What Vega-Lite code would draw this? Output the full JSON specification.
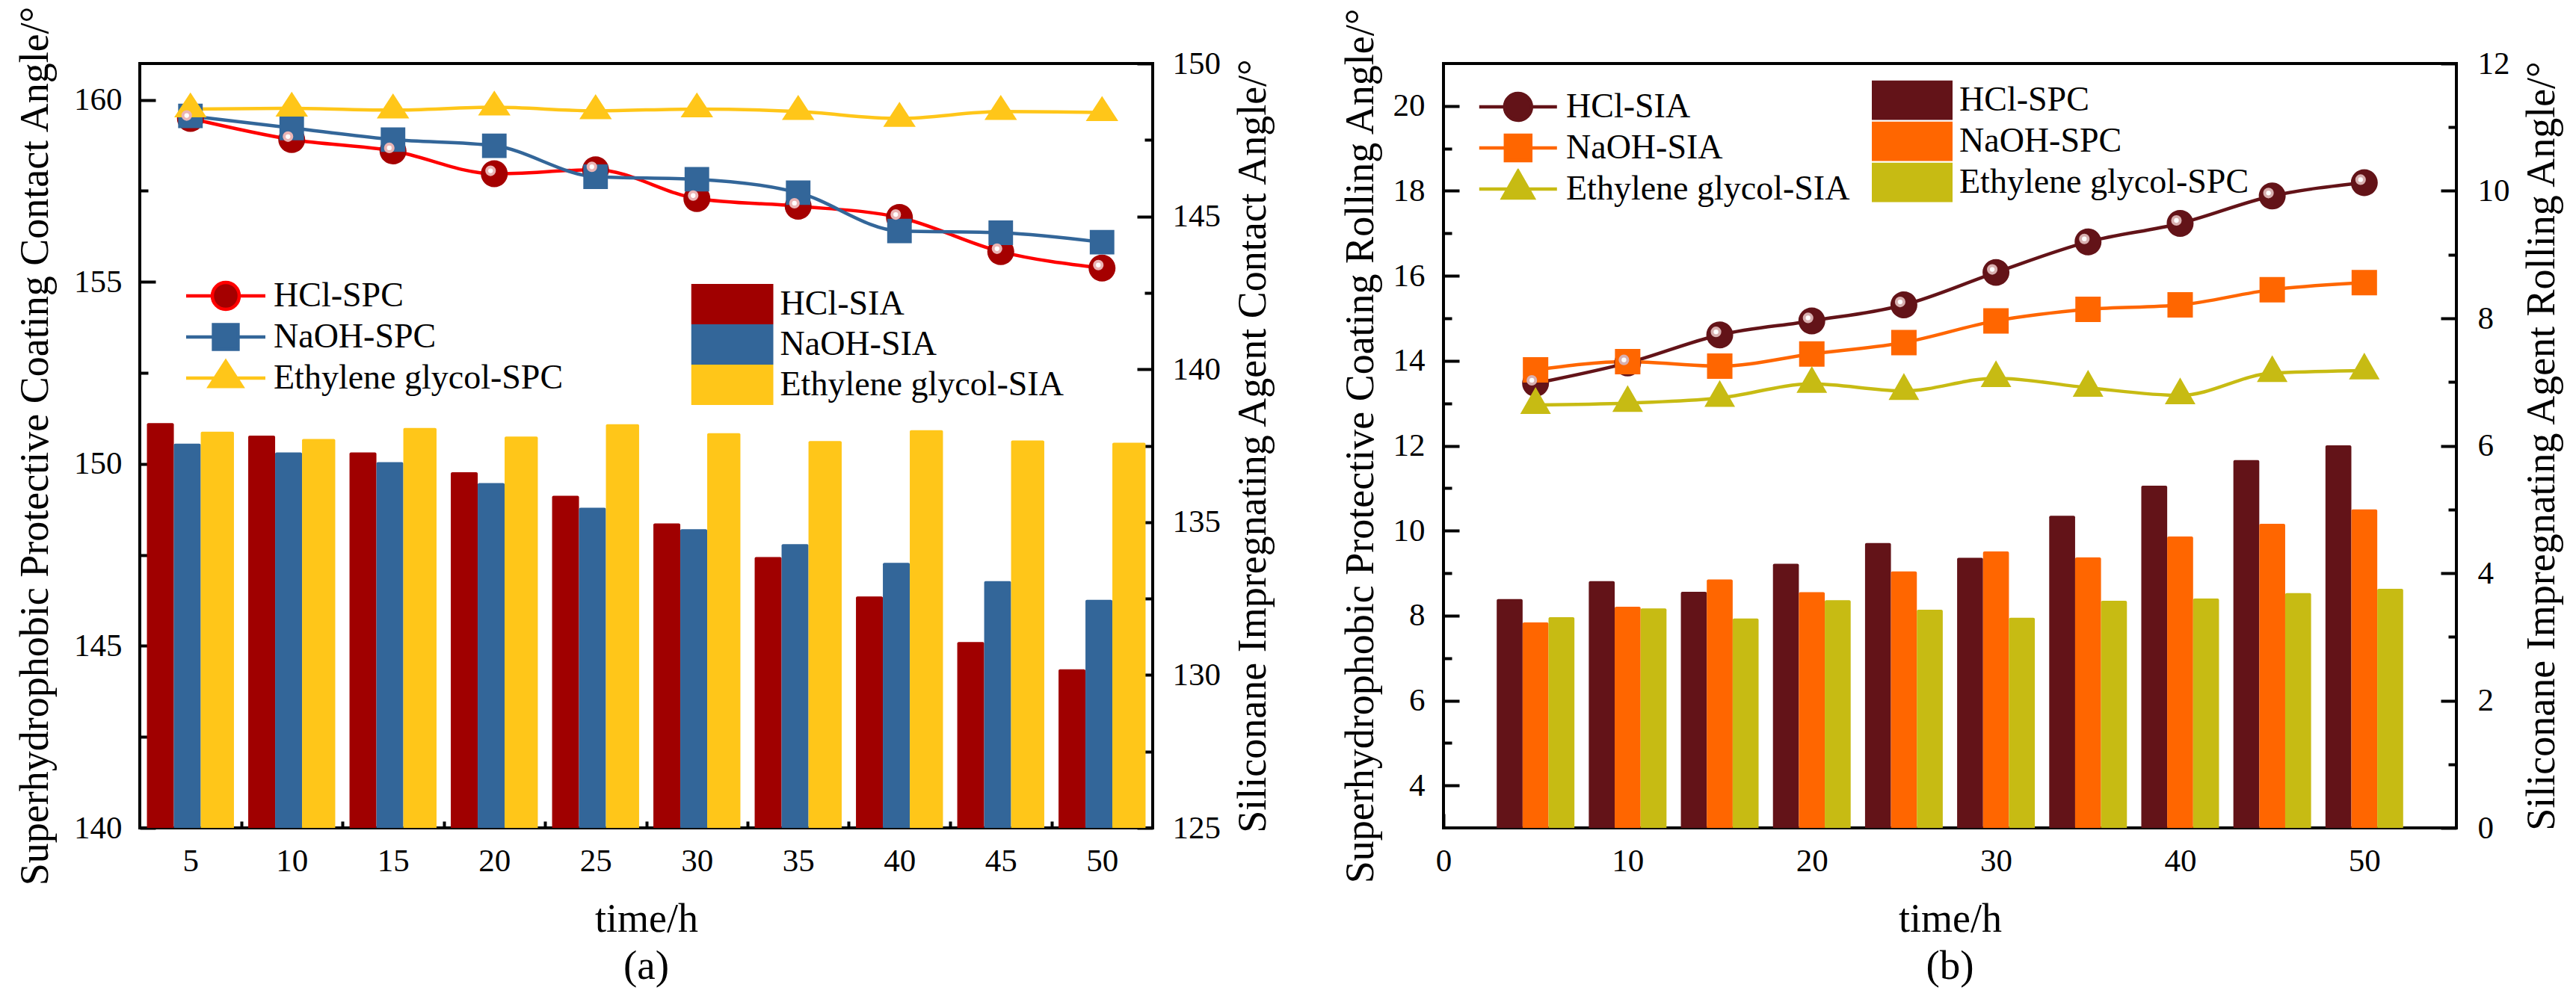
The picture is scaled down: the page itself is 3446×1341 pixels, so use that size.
{
  "$schema": "https://vega.github.io/schema/vega-lite/v6.json",
  "background": "white",
  "padding": {"left": 18, "top": 4, "right": 10, "bottom": 10},
  "datasets": {
    "a_bar": [
      {"time": 5, "series": "HCl-SIA", "angle": 138.24}, {"time": 10, "series": "HCl-SIA", "angle": 137.83},
      {"time": 15, "series": "HCl-SIA", "angle": 137.28}, {"time": 20, "series": "HCl-SIA", "angle": 136.63},
      {"time": 25, "series": "HCl-SIA", "angle": 135.86}, {"time": 30, "series": "HCl-SIA", "angle": 134.96},
      {"time": 35, "series": "HCl-SIA", "angle": 133.86}, {"time": 40, "series": "HCl-SIA", "angle": 132.57},
      {"time": 45, "series": "HCl-SIA", "angle": 131.08}, {"time": 50, "series": "HCl-SIA", "angle": 130.19},
      {"time": 5, "series": "NaOH-SIA", "angle": 137.57}, {"time": 10, "series": "NaOH-SIA", "angle": 137.28},
      {"time": 15, "series": "NaOH-SIA", "angle": 136.96}, {"time": 20, "series": "NaOH-SIA", "angle": 136.28},
      {"time": 25, "series": "NaOH-SIA", "angle": 135.47}, {"time": 30, "series": "NaOH-SIA", "angle": 134.77},
      {"time": 35, "series": "NaOH-SIA", "angle": 134.28}, {"time": 40, "series": "NaOH-SIA", "angle": 133.67},
      {"time": 45, "series": "NaOH-SIA", "angle": 133.07}, {"time": 50, "series": "NaOH-SIA", "angle": 132.46},
      {"time": 5, "series": "Ethylene glycol-SIA", "angle": 137.96}, {"time": 10, "series": "Ethylene glycol-SIA", "angle": 137.72},
      {"time": 15, "series": "Ethylene glycol-SIA", "angle": 138.08}, {"time": 20, "series": "Ethylene glycol-SIA", "angle": 137.8},
      {"time": 25, "series": "Ethylene glycol-SIA", "angle": 138.2}, {"time": 30, "series": "Ethylene glycol-SIA", "angle": 137.91},
      {"time": 35, "series": "Ethylene glycol-SIA", "angle": 137.65}, {"time": 40, "series": "Ethylene glycol-SIA", "angle": 138.01},
      {"time": 45, "series": "Ethylene glycol-SIA", "angle": 137.67}, {"time": 50, "series": "Ethylene glycol-SIA", "angle": 137.6}
    ],
    "a_line": [
      {"time": 5, "series": "HCl-SPC", "angle": 159.49}, {"time": 10, "series": "HCl-SPC", "angle": 158.91},
      {"time": 15, "series": "HCl-SPC", "angle": 158.6}, {"time": 20, "series": "HCl-SPC", "angle": 157.97},
      {"time": 25, "series": "HCl-SPC", "angle": 158.08}, {"time": 30, "series": "HCl-SPC", "angle": 157.29},
      {"time": 35, "series": "HCl-SPC", "angle": 157.08}, {"time": 40, "series": "HCl-SPC", "angle": 156.77},
      {"time": 45, "series": "HCl-SPC", "angle": 155.83}, {"time": 50, "series": "HCl-SPC", "angle": 155.38},
      {"time": 5, "series": "NaOH-SPC", "angle": 159.56}, {"time": 10, "series": "NaOH-SPC", "angle": 159.23},
      {"time": 15, "series": "NaOH-SPC", "angle": 158.91}, {"time": 20, "series": "NaOH-SPC", "angle": 158.74},
      {"time": 25, "series": "NaOH-SPC", "angle": 157.89}, {"time": 30, "series": "NaOH-SPC", "angle": 157.82},
      {"time": 35, "series": "NaOH-SPC", "angle": 157.45}, {"time": 40, "series": "NaOH-SPC", "angle": 156.4},
      {"time": 45, "series": "NaOH-SPC", "angle": 156.35}, {"time": 50, "series": "NaOH-SPC", "angle": 156.09},
      {"time": 5, "series": "Ethylene glycol-SPC", "angle": 159.75}, {"time": 10, "series": "Ethylene glycol-SPC", "angle": 159.77},
      {"time": 15, "series": "Ethylene glycol-SPC", "angle": 159.72}, {"time": 20, "series": "Ethylene glycol-SPC", "angle": 159.8},
      {"time": 25, "series": "Ethylene glycol-SPC", "angle": 159.7}, {"time": 30, "series": "Ethylene glycol-SPC", "angle": 159.75},
      {"time": 35, "series": "Ethylene glycol-SPC", "angle": 159.68}, {"time": 40, "series": "Ethylene glycol-SPC", "angle": 159.49},
      {"time": 45, "series": "Ethylene glycol-SPC", "angle": 159.68}, {"time": 50, "series": "Ethylene glycol-SPC", "angle": 159.65}
    ],
    "b_bar": [
      {"time": 5, "series": "HCl-SPC", "angle": 8.39}, {"time": 10, "series": "HCl-SPC", "angle": 8.81},
      {"time": 15, "series": "HCl-SPC", "angle": 8.56}, {"time": 20, "series": "HCl-SPC", "angle": 9.22},
      {"time": 25, "series": "HCl-SPC", "angle": 9.71}, {"time": 30, "series": "HCl-SPC", "angle": 9.36},
      {"time": 35, "series": "HCl-SPC", "angle": 10.35}, {"time": 40, "series": "HCl-SPC", "angle": 11.06},
      {"time": 45, "series": "HCl-SPC", "angle": 11.66}, {"time": 50, "series": "HCl-SPC", "angle": 12.01},
      {"time": 5, "series": "NaOH-SPC", "angle": 7.84}, {"time": 10, "series": "NaOH-SPC", "angle": 8.21},
      {"time": 15, "series": "NaOH-SPC", "angle": 8.85}, {"time": 20, "series": "NaOH-SPC", "angle": 8.55},
      {"time": 25, "series": "NaOH-SPC", "angle": 9.04}, {"time": 30, "series": "NaOH-SPC", "angle": 9.51},
      {"time": 35, "series": "NaOH-SPC", "angle": 9.37}, {"time": 40, "series": "NaOH-SPC", "angle": 9.86},
      {"time": 45, "series": "NaOH-SPC", "angle": 10.16}, {"time": 50, "series": "NaOH-SPC", "angle": 10.5},
      {"time": 5, "series": "Ethylene glycol-SPC", "angle": 7.96}, {"time": 10, "series": "Ethylene glycol-SPC", "angle": 8.17},
      {"time": 15, "series": "Ethylene glycol-SPC", "angle": 7.93}, {"time": 20, "series": "Ethylene glycol-SPC", "angle": 8.36},
      {"time": 25, "series": "Ethylene glycol-SPC", "angle": 8.14}, {"time": 30, "series": "Ethylene glycol-SPC", "angle": 7.95},
      {"time": 35, "series": "Ethylene glycol-SPC", "angle": 8.35}, {"time": 40, "series": "Ethylene glycol-SPC", "angle": 8.4},
      {"time": 45, "series": "Ethylene glycol-SPC", "angle": 8.53}, {"time": 50, "series": "Ethylene glycol-SPC", "angle": 8.63}
    ],
    "b_line": [
      {"time": 5, "series": "HCl-SIA", "angle": 6.98}, {"time": 10, "series": "HCl-SIA", "angle": 7.3},
      {"time": 15, "series": "HCl-SIA", "angle": 7.74}, {"time": 20, "series": "HCl-SIA", "angle": 7.96},
      {"time": 25, "series": "HCl-SIA", "angle": 8.21}, {"time": 30, "series": "HCl-SIA", "angle": 8.72},
      {"time": 35, "series": "HCl-SIA", "angle": 9.2}, {"time": 40, "series": "HCl-SIA", "angle": 9.49},
      {"time": 45, "series": "HCl-SIA", "angle": 9.92}, {"time": 50, "series": "HCl-SIA", "angle": 10.13},
      {"time": 5, "series": "NaOH-SIA", "angle": 7.19}, {"time": 10, "series": "NaOH-SIA", "angle": 7.32},
      {"time": 15, "series": "NaOH-SIA", "angle": 7.25}, {"time": 20, "series": "NaOH-SIA", "angle": 7.44},
      {"time": 25, "series": "NaOH-SIA", "angle": 7.62}, {"time": 30, "series": "NaOH-SIA", "angle": 7.96},
      {"time": 35, "series": "NaOH-SIA", "angle": 8.14}, {"time": 40, "series": "NaOH-SIA", "angle": 8.21},
      {"time": 45, "series": "NaOH-SIA", "angle": 8.45}, {"time": 50, "series": "NaOH-SIA", "angle": 8.56},
      {"time": 5, "series": "Ethylene glycol-SIA", "angle": 6.64}, {"time": 10, "series": "Ethylene glycol-SIA", "angle": 6.67},
      {"time": 15, "series": "Ethylene glycol-SIA", "angle": 6.75}, {"time": 20, "series": "Ethylene glycol-SIA", "angle": 6.97},
      {"time": 25, "series": "Ethylene glycol-SIA", "angle": 6.86}, {"time": 30, "series": "Ethylene glycol-SIA", "angle": 7.06},
      {"time": 35, "series": "Ethylene glycol-SIA", "angle": 6.91}, {"time": 40, "series": "Ethylene glycol-SIA", "angle": 6.79},
      {"time": 45, "series": "Ethylene glycol-SIA", "angle": 7.14}, {"time": 50, "series": "Ethylene glycol-SIA", "angle": 7.18}
    ]
  },
  "spacing": 389,
  "bounds": "flush",
  "resolve": {
    "scale": {"color": "independent", "fill": "independent", "stroke": "independent", "shape": "independent", "xOffset": "independent"},
    "legend": {"color": "independent", "fill": "independent", "stroke": "independent", "shape": "independent"}
  },
  "hconcat": [
    {
      "width": 1355,
      "height": 1023,
      "title": {"text": "(a)", "orient": "bottom", "frame": "group", "offset": 10},
      "layer": [
        {
          "data": {"name": "a_bar"},
          "layer": [
            {
              "transform": [{"filter": "datum.series !== 'Ethylene glycol-SIA'"}],
              "mark": {"type": "bar", "cornerRadiusTopLeft": 2, "cornerRadiusTopRight": 2},
              "encoding": {
                "x": {"field": "time", "type": "ordinal", "scale": {"paddingInner": 0.141, "paddingOuter": 0.0705}, "axis": null},
                "xOffset": {"field": "series", "type": "nominal", "scale": {"domain": ["HCl-SIA", "NaOH-SIA", "Ethylene glycol-SIA"], "range": [0, 108], "paddingInner": 0, "paddingOuter": 0}},
                "y": {
                  "field": "angle", "type": "quantitative",
                  "scale": {"domain": [125, 150], "nice": false, "zero": false},
                  "axis": {
                    "orient": "right",
                    "title": "Siliconane Impregnating Agent Contact Angle/°",
                    "values": [125, 127.5, 130, 132.5, 135, 137.5, 140, 142.5, 145, 147.5, 150],
                    "labelExpr": "datum.value % 5 === 0 ? datum.value : ''",
                    "offset": -21,
                    "tickSize": 21,
                    "tickDash": {"condition": {"test": "datum.value % 5 === 0", "value": [40, 1]}, "value": [11, 40]},
                    "tickDashOffset": {"condition": {"test": "datum.value % 5 === 0", "value": 0}, "value": 41},
                    "labelPadding": 26,
                    "titleAngle": 270,
                    "titleBaseline": "top",
                    "titlePadding": 17
                  }
                },
                "y2": {"datum": 125},
                "color": {
                  "field": "series", "type": "nominal",
                  "scale": {"domain": ["HCl-SIA", "NaOH-SIA", "Ethylene glycol-SIA"], "range": ["#a00000", "#336699", "#ffc619"]},
                  "legend": {"title": null, "orient": "none", "legendX": 737.5, "legendY": 295, "symbolType": "M-1,-0.49H1V0.49H-1Z", "symbolSize": 12100, "symbolStrokeWidth": 0, "symbolOpacity": 1, "clipHeight": 54, "labelOffset": 9}
                }
              }
            },
            {
              "transform": [{"filter": "datum.series === 'Ethylene glycol-SIA'"}],
              "mark": {"type": "bar", "cornerRadiusTopLeft": 2, "cornerRadiusTopRight": 2},
              "encoding": {
                "x": {"field": "time", "type": "ordinal", "scale": {"paddingInner": 0.141, "paddingOuter": 0.0705}, "axis": null},
                "xOffset": {"field": "series", "type": "nominal", "scale": {"domain": ["HCl-SIA", "NaOH-SIA", "Ethylene glycol-SIA"], "range": [-16.8, 116.4], "paddingInner": 0, "paddingOuter": 0}},
                "y": {"field": "angle", "type": "quantitative", "scale": {"domain": [125, 150], "nice": false, "zero": false}},
                "y2": {"datum": 125},
                "color": {
                  "field": "series", "type": "nominal",
                  "scale": {"domain": ["HCl-SIA", "NaOH-SIA", "Ethylene glycol-SIA"], "range": ["#a00000", "#336699", "#ffc619"]},
                  "legend": {"title": null, "orient": "none", "legendX": 737.5, "legendY": 295, "symbolType": "M-1,-0.49H1V0.49H-1Z", "symbolSize": 12100, "symbolStrokeWidth": 0, "symbolOpacity": 1, "clipHeight": 54, "labelOffset": 9}
                }
              }
            }
          ],
          "resolve": {"scale": {"xOffset": "independent"}}
        },
        {
          "data": {"name": "a_line"},
          "layer": [
            {
              "mark": {"type": "line", "interpolate": "monotone", "strokeWidth": 4.5},
              "encoding": {
                "x": {
                  "field": "time", "type": "quantitative",
                  "scale": {"domain": [2.5, 52.5], "nice": false, "zero": false},
                  "axis": {
                    "title": "time/h",
                    "values": [5, 7.5, 10, 12.5, 15, 17.5, 20, 22.5, 25, 27.5, 30, 32.5, 35, 37.5, 40, 42.5, 45, 47.5, 50],
                    "labelExpr": "datum.value % 5 === 0 ? datum.value : ''",
                    "offset": -19,
                    "tickSize": 19,
                    "tickDash": {"condition": {"test": "datum.value % 5 === 0", "value": [40, 1]}, "value": [9, 40]},
                    "tickDashOffset": {"condition": {"test": "datum.value % 5 === 0", "value": 0}, "value": 39},
                    "labelPadding": 23,
                    "titlePadding": 29
                  }
                },
                "y": {
                  "field": "angle", "type": "quantitative",
                  "scale": {"domain": [140, 161], "nice": false, "zero": false},
                  "axis": {
                    "title": "Superhydrophobic Protective Coating Contact Angle/°",
                    "values": [140, 142.5, 145, 147.5, 150, 152.5, 155, 157.5, 160],
                    "labelExpr": "datum.value % 5 === 0 ? datum.value : ''",
                    "offset": -21,
                    "tickSize": 21,
                    "tickDash": {"condition": {"test": "datum.value % 5 === 0", "value": [40, 1]}, "value": [11, 40]},
                    "tickDashOffset": {"condition": {"test": "datum.value % 5 === 0", "value": 0}, "value": 41},
                    "labelPadding": 24,
                    "titlePadding": 24
                  }
                },
                "stroke": {
                  "field": "series", "type": "nominal",
                  "scale": {"domain": ["HCl-SPC", "NaOH-SPC", "Ethylene glycol-SPC"], "range": ["#ff0000", "#336699", "#ffc619"]},
                  "legend": {"title": null, "orient": "none", "legendX": 59.5, "legendY": 283.5, "symbolSize": 11236, "symbolStrokeWidth": 4.5, "symbolOpacity": 1, "clipHeight": 55, "labelOffset": 8.5, "encode": {"symbols": {"update": {"strokeWidth": {"value": 4.5}}}}}
                }
              }
            },
            {
              "mark": {"type": "point", "filled": true, "size": 11236, "strokeWidth": 0, "opacity": 1},
              "encoding": {
                "x": {"field": "time", "type": "quantitative"},
                "y": {"field": "angle", "type": "quantitative"},
                "fill": {
                  "field": "series", "type": "nominal",
                  "scale": {"domain": ["HCl-SPC", "NaOH-SPC", "Ethylene glycol-SPC"], "range": ["#a50000", "#336699", "#ffc619"]},
                  "legend": {"title": null, "orient": "none", "legendX": 59.5, "legendY": 283.5, "symbolSize": 11236, "symbolStrokeWidth": 4.5, "symbolOpacity": 1, "clipHeight": 55, "labelOffset": 8.5, "encode": {"symbols": {"update": {"strokeWidth": {"value": 4.5}}}}}
                },
                "stroke": {
                  "field": "series", "type": "nominal",
                  "scale": {"domain": ["HCl-SPC", "NaOH-SPC", "Ethylene glycol-SPC"], "range": ["#ff0000", "#336699", "#ffc619"]},
                  "legend": {"title": null, "orient": "none", "legendX": 59.5, "legendY": 283.5, "symbolSize": 11236, "symbolStrokeWidth": 4.5, "symbolOpacity": 1, "clipHeight": 55, "labelOffset": 8.5, "encode": {"symbols": {"update": {"strokeWidth": {"value": 4.5}}}}}
                },
                "shape": {
                  "field": "series", "type": "nominal",
                  "scale": {
                    "domain": ["HCl-SPC", "NaOH-SPC", "Ethylene glycol-SPC"],
                    "range": [
                      "M-1,0H-0.34M0.34,0H1M0.34,0A0.34,0.34 0 1,1 -0.34,0A0.34,0.34 0 1,1 0.34,0Z",
                      "M-1,0H-0.31M0.31,0H1M-0.31,-0.31H0.31V0.31H-0.31Z",
                      "M-1,0H-0.27M0.27,0H1M0,-0.42L0.41,0.21L-0.41,0.21Z"
                    ]
                  },
                  "legend": {"title": null, "orient": "none", "legendX": 59.5, "legendY": 283.5, "symbolSize": 11236, "symbolStrokeWidth": 4.5, "symbolOpacity": 1, "clipHeight": 55, "labelOffset": 8.5, "encode": {"symbols": {"update": {"strokeWidth": {"value": 4.5}}}}}
                }
              }
            },
            {
              "transform": [{"filter": "datum.series === 'HCl-SPC'"}],
              "mark": {"type": "circle", "size": 200, "color": "#eab4b4", "opacity": 1},
              "encoding": {
                "x": {"field": "time", "type": "quantitative"},
                "y": {"field": "angle", "type": "quantitative"},
                "xOffset": {"value": -5},
                "yOffset": {"value": -4}
              }
            },
            {
              "transform": [{"filter": "datum.series === 'HCl-SPC'"}],
              "mark": {"type": "circle", "size": 40, "color": "#ffffff", "opacity": 1},
              "encoding": {
                "x": {"field": "time", "type": "quantitative"},
                "y": {"field": "angle", "type": "quantitative"},
                "xOffset": {"value": -5},
                "yOffset": {"value": -4}
              }
            }
          ]
        }
      ],
      "resolve": {"scale": {"x": "independent", "y": "independent"}}
    },
    {
      "width": 1355,
      "height": 1023,
      "title": {"text": "(b)", "orient": "bottom", "frame": "group", "offset": 10},
      "layer": [
        {
          "data": {"name": "b_bar"},
          "mark": {"type": "bar", "cornerRadiusTopLeft": 2, "cornerRadiusTopRight": 2},
          "encoding": {
            "x": {"field": "time", "type": "ordinal", "scale": {"paddingInner": 0.156, "paddingOuter": 0.578}, "axis": null},
            "xOffset": {"field": "series", "type": "nominal", "scale": {"domain": ["HCl-SPC", "NaOH-SPC", "Ethylene glycol-SPC"], "paddingInner": 0, "paddingOuter": 0}},
            "y": {
              "field": "angle", "type": "quantitative",
              "scale": {"domain": [3, 21], "nice": false, "zero": false},
              "axis": {
                "orient": "left",
                "title": "Superhydrophobic Protective Coating Rolling Angle/°",
                "values": [4, 5, 6, 7, 8, 9, 10, 11, 12, 13, 14, 15, 16, 17, 18, 19, 20],
                "labelExpr": "datum.value % 2 === 0 ? datum.value : ''",
                "offset": -21,
                "tickSize": 21,
                "tickDash": {"condition": {"test": "datum.value % 2 === 0", "value": [40, 1]}, "value": [11, 40]},
                "tickDashOffset": {"condition": {"test": "datum.value % 2 === 0", "value": 0}, "value": 41},
                "labelPadding": 25,
                "titlePadding": 16
              }
            },
            "y2": {"datum": 3},
            "color": {
              "field": "series", "type": "nominal",
              "scale": {"domain": ["HCl-SPC", "NaOH-SPC", "Ethylene glycol-SPC"], "range": ["#631318", "#ff6600", "#c7bb13"]},
              "legend": {"title": null, "orient": "none", "legendX": 573, "legendY": 22, "symbolType": "M-1,-0.49H1V0.49H-1Z", "symbolSize": 11664, "symbolStrokeWidth": 0, "symbolOpacity": 1, "clipHeight": 54.3, "labelOffset": 9}
            }
          }
        },
        {
          "data": {"name": "b_line"},
          "layer": [
            {
              "mark": {"type": "line", "interpolate": "monotone", "strokeWidth": 4.5},
              "encoding": {
                "x": {
                  "field": "time", "type": "quantitative",
                  "scale": {"domain": [0, 55], "nice": false, "zero": false},
                  "axis": {
                    "title": "time/h",
                    "values": [0, 5, 10, 15, 20, 25, 30, 35, 40, 45, 50],
                    "labelExpr": "datum.value % 10 === 0 ? datum.value : ''",
                    "offset": -19,
                    "tickSize": 19,
                    "tickDash": {"condition": {"test": "datum.value % 10 === 0", "value": [40, 1]}, "value": [9, 40]},
                    "tickDashOffset": {"condition": {"test": "datum.value % 10 === 0", "value": 0}, "value": 39},
                    "labelPadding": 23,
                    "titlePadding": 29
                  }
                },
                "y": {
                  "field": "angle", "type": "quantitative",
                  "scale": {"domain": [0, 12], "nice": false, "zero": false},
                  "axis": {
                    "orient": "right",
                    "title": "Siliconane Impregnating Agent Rolling Angle/°",
                    "values": [0, 1, 2, 3, 4, 5, 6, 7, 8, 9, 10, 11, 12],
                    "labelExpr": "datum.value % 2 === 0 ? datum.value : ''",
                    "offset": -21,
                    "tickSize": 21,
                    "tickDash": {"condition": {"test": "datum.value % 2 === 0", "value": [40, 1]}, "value": [11, 40]},
                    "tickDashOffset": {"condition": {"test": "datum.value % 2 === 0", "value": 0}, "value": 41},
                    "labelPadding": 28,
                    "titleAngle": 270,
                    "titleBaseline": "top",
                    "titlePadding": 16
                  }
                },
                "stroke": {
                  "field": "series", "type": "nominal",
                  "scale": {"domain": ["HCl-SIA", "NaOH-SIA", "Ethylene glycol-SIA"], "range": ["#631318", "#ff6600", "#c7bb13"]},
                  "legend": {"title": null, "orient": "none", "legendX": 45.3, "legendY": 30.6, "symbolSize": 10816, "symbolStrokeWidth": 4.5, "symbolOpacity": 1, "clipHeight": 54.7, "labelOffset": 9.7, "encode": {"symbols": {"update": {"strokeWidth": {"value": 4.5}}}}}
                }
              }
            },
            {
              "mark": {"type": "point", "filled": true, "size": 10816, "strokeWidth": 0, "opacity": 1},
              "encoding": {
                "x": {"field": "time", "type": "quantitative"},
                "y": {"field": "angle", "type": "quantitative"},
                "fill": {
                  "field": "series", "type": "nominal",
                  "scale": {"domain": ["HCl-SIA", "NaOH-SIA", "Ethylene glycol-SIA"], "range": ["#631318", "#ff6600", "#c7bb13"]},
                  "legend": {"title": null, "orient": "none", "legendX": 45.3, "legendY": 30.6, "symbolSize": 10816, "symbolStrokeWidth": 4.5, "symbolOpacity": 1, "clipHeight": 54.7, "labelOffset": 9.7, "encode": {"symbols": {"update": {"strokeWidth": {"value": 4.5}}}}}
                },
                "stroke": {
                  "field": "series", "type": "nominal",
                  "scale": {"domain": ["HCl-SIA", "NaOH-SIA", "Ethylene glycol-SIA"], "range": ["#631318", "#ff6600", "#c7bb13"]},
                  "legend": {"title": null, "orient": "none", "legendX": 45.3, "legendY": 30.6, "symbolSize": 10816, "symbolStrokeWidth": 4.5, "symbolOpacity": 1, "clipHeight": 54.7, "labelOffset": 9.7, "encode": {"symbols": {"update": {"strokeWidth": {"value": 4.5}}}}}
                },
                "shape": {
                  "field": "series", "type": "nominal",
                  "scale": {
                    "domain": ["HCl-SIA", "NaOH-SIA", "Ethylene glycol-SIA"],
                    "range": [
                      "M-1,0H-0.346M0.346,0H1M0.346,0A0.346,0.346 0 1,1 -0.346,0A0.346,0.346 0 1,1 0.346,0Z",
                      "M-1,0H-0.327M0.327,0H1M-0.327,-0.327H0.327V0.327H-0.327Z",
                      "M-1,0H-0.26M0.26,0H1M0,-0.46L0.394,0.23L-0.394,0.23Z"
                    ]
                  },
                  "legend": {"title": null, "orient": "none", "legendX": 45.3, "legendY": 30.6, "symbolSize": 10816, "symbolStrokeWidth": 4.5, "symbolOpacity": 1, "clipHeight": 54.7, "labelOffset": 9.7, "encode": {"symbols": {"update": {"strokeWidth": {"value": 4.5}}}}}
                }
              }
            },
            {
              "transform": [{"filter": "datum.series === 'HCl-SIA'"}],
              "mark": {"type": "circle", "size": 200, "color": "#d8b0b0", "opacity": 1},
              "encoding": {
                "x": {"field": "time", "type": "quantitative"},
                "y": {"field": "angle", "type": "quantitative"},
                "xOffset": {"value": -5},
                "yOffset": {"value": -4}
              }
            },
            {
              "transform": [{"filter": "datum.series === 'HCl-SIA'"}],
              "mark": {"type": "circle", "size": 40, "color": "#ffffff", "opacity": 1},
              "encoding": {
                "x": {"field": "time", "type": "quantitative"},
                "y": {"field": "angle", "type": "quantitative"},
                "xOffset": {"value": -5},
                "yOffset": {"value": -4}
              }
            }
          ]
        }
      ],
      "resolve": {"scale": {"x": "independent", "y": "independent"}}
    }
  ],
  "config": {
    "view": {"stroke": "black", "strokeWidth": 4},
    "font": "Liberation Serif",
    "axis": {
      "domain": false, "grid": false, "zindex": 1, "ticks": true,
      "tickColor": "black", "tickWidth": 4, "tickOpacity": 1,
      "labelFont": "Liberation Serif", "labelFontSize": 43, "labelColor": "black",
      "titleFont": "Liberation Serif", "titleFontSize": 54, "titleFontWeight": "normal", "titleColor": "black",
      "labelFlush": false, "labelOverlap": false, "labelBound": false
    },
    "legend": {"labelFont": "Liberation Serif", "labelFontSize": 46, "labelColor": "black", "padding": 0, "rowPadding": 0, "labelLimit": 0},
    "title": {"font": "Liberation Serif", "fontSize": 55, "fontWeight": "normal", "color": "black"}
  }
}
